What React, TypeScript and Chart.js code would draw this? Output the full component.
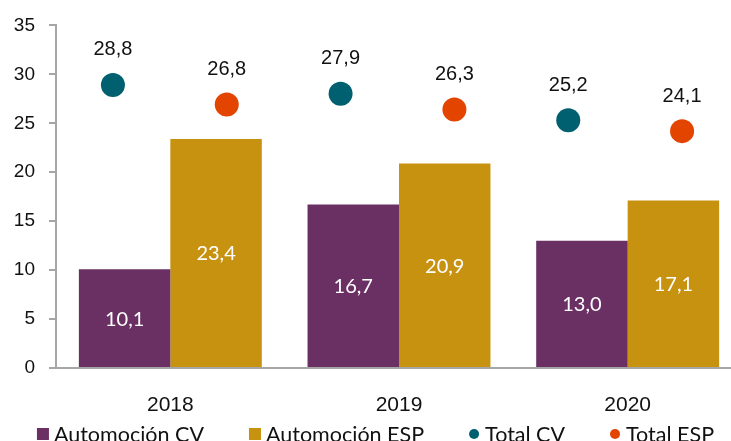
import React, { useEffect, useRef } from 'react';
import { Chart, registerables } from 'chart.js';

Chart.register(...registerables);

// ---- data ----
const years = ['2018', '2019', '2020'];
const automocionCV = [10.1, 16.7, 13.0];
const automocionESP = [23.4, 20.9, 17.1];
const totalCV = [28.8, 27.9, 25.2];
const totalESP = [26.8, 26.3, 24.1];
const seriesNames = ['Automoción CV', 'Automoción ESP', 'Total CV', 'Total ESP'];
const yMin = 0;
const yMax = 35;
const yStep = 5;

// ---- style ----
const C_CV = '#6a3063';
const C_ESP = '#c89211';
const C_TCV = '#006070';
const C_TESP = '#e34400';
const AXIS = '#a6a6a6';
const W = 751;
const H = 460;
const PAD_TOP = 24;
const PAD_RIGHT = 9;
const Y_AXIS_W = 56;
const X_AXIS_H = 45;
const PAD_BOTTOM = 47;

const fmt = (v: number) => v.toFixed(1).replace('.', ',');

const subLabels = years.flatMap((y) => [`${y} CV`, `${y} ESP`]);
const totalCVData = years.flatMap((_, i) => [totalCV[i], null]);
const totalESPData = years.flatMap((_, i) => [null, totalESP[i]]);

const legendItems = [
  { label: seriesNames[0], color: C_CV, shape: 'rect' },
  { label: seriesNames[1], color: C_ESP, shape: 'rect' },
  { label: seriesNames[2], color: C_TCV, shape: 'circle' },
  { label: seriesNames[3], color: C_TESP, shape: 'circle' },
];

const valueLabels = {
  id: 'valueLabels',
  afterDatasetsDraw(chart: any) {
    const ctx = chart.ctx;
    ctx.save();
    ctx.textAlign = 'center';
    ctx.textBaseline = 'middle';
    chart.data.datasets.forEach((ds: any, di: number) => {
      const meta = chart.getDatasetMeta(di);
      meta.data.forEach((el: any, i: number) => {
        const v = ds.data[i];
        if (v == null) return;
        const p = el.getProps(['x', 'y', 'base'], true);
        if (meta.type === 'bar') {
          ctx.font = '20px Lato';
          ctx.fillStyle = '#ffffff';
          ctx.fillText(fmt(v), p.x, (p.y + p.base) / 2 + 1);
        } else {
          ctx.font = '20px "Liberation Sans", Arial, sans-serif';
          ctx.fillStyle = '#111111';
          ctx.fillText(fmt(v), p.x, p.y - 35);
        }
      });
    });
    ctx.restore();
  },
};

const bottomLegend = {
  id: 'bottomLegend',
  afterDraw(chart: any) {
    const ctx = chart.ctx;
    ctx.save();
    ctx.font = '21.5px Lato';
    const gapItem = 45;
    const items = legendItems.map((it) => {
      const isBar = it.shape === 'rect';
      return {
        ...it,
        isBar,
        mw: isBar ? 12 : 10,
        slot: isBar ? 17 : 16,
        tw: ctx.measureText(it.label).width,
      };
    });
    const total =
      items.reduce((s: number, it: any) => s + it.slot + it.tw, 0) + gapItem * (items.length - 1);
    let x = chart.width / 2 - total / 2;
    const cy = 434;
    items.forEach((it: any) => {
      ctx.fillStyle = it.color;
      if (it.isBar) {
        ctx.fillRect(x, cy - it.mw / 2, it.mw, it.mw);
      } else {
        ctx.beginPath();
        ctx.arc(x + it.mw / 2, cy, it.mw / 2, 0, Math.PI * 2);
        ctx.fill();
      }
      x += it.slot;
      ctx.fillStyle = '#111111';
      ctx.textAlign = 'left';
      ctx.textBaseline = 'alphabetic';
      ctx.fillText(it.label, x, 442);
      x += it.tw + gapItem;
    });
    ctx.restore();
  },
};

export default function App() {
  const barRef = useRef<HTMLCanvasElement>(null);
  const dotRef = useRef<HTMLCanvasElement>(null);

  useEffect(() => {
    if (!barRef.current || !dotRef.current) return;

    // Chart 1: bars, axes, legend
    const barChart = new Chart(barRef.current, {
      type: 'bar',
      data: {
        labels: years,
        datasets: [
          {
            label: seriesNames[0],
            data: automocionCV,
            backgroundColor: C_CV,
            categoryPercentage: 0.8,
            barPercentage: 1.0,
          },
          {
            label: seriesNames[1],
            data: automocionESP,
            backgroundColor: C_ESP,
            categoryPercentage: 0.8,
            barPercentage: 1.0,
          },
        ],
      },
      options: {
        animation: false,
        responsive: false,
        devicePixelRatio: 1,
        layout: { padding: { top: PAD_TOP, right: PAD_RIGHT, bottom: PAD_BOTTOM, left: 0 } },
        plugins: {
          legend: { display: false },
          tooltip: { enabled: false },
        },
        scales: {
          x: {
            type: 'category',
            offset: true,
            grid: { display: false },
            border: { display: true, color: AXIS, width: 2 },
            ticks: {
              color: '#111111',
              padding: 17,
              font: { family: '"Liberation Sans", Arial, sans-serif', size: 21 },
            },
            afterFit: (s: any) => {
              s.height = X_AXIS_H;
            },
          },
          y: {
            min: yMin,
            max: yMax,
            ticks: {
              stepSize: yStep,
              color: '#111111',
              padding: 14,
              font: { family: '"Liberation Sans", Arial, sans-serif', size: 19 },
            },
            grid: {
              display: true,
              drawOnChartArea: false,
              drawTicks: true,
              tickLength: 7,
              color: AXIS,
              lineWidth: 2,
            },
            border: { display: true, color: AXIS, width: 2 },
            afterFit: (s: any) => {
              s.width = Y_AXIS_W;
            },
          },
        },
      } as any,
      plugins: [valueLabels, bottomLegend],
    });

    // Chart 2: total markers on the same plot area, split in CV / ESP slots per year
    const dotChart = new Chart(dotRef.current, {
      type: 'line',
      data: {
        labels: subLabels,
        datasets: [
          {
            label: seriesNames[2],
            data: totalCVData,
            showLine: false,
            pointRadius: 12,
            pointHoverRadius: 12,
            pointBackgroundColor: C_TCV,
            pointBorderWidth: 0,
            borderColor: C_TCV,
          },
          {
            label: seriesNames[3],
            data: totalESPData,
            showLine: false,
            pointRadius: 12,
            pointHoverRadius: 12,
            pointBackgroundColor: C_TESP,
            pointBorderWidth: 0,
            borderColor: C_TESP,
          },
        ] as any,
      },
      options: {
        animation: false,
        responsive: false,
        devicePixelRatio: 1,
        layout: {
          padding: {
            top: PAD_TOP,
            right: PAD_RIGHT,
            bottom: PAD_BOTTOM + X_AXIS_H,
            left: Y_AXIS_W,
          },
        },
        plugins: {
          legend: { display: false },
          tooltip: { enabled: false },
        },
        scales: {
          x: { type: 'category', offset: true, display: false },
          y: { min: yMin, max: yMax, display: false },
        },
      } as any,
      plugins: [valueLabels],
    });

    return () => {
      barChart.destroy();
      dotChart.destroy();
    };
  }, []);

  return (
    <div
      style={{
        position: 'fixed',
        left: 0,
        top: 0,
        width: 731,
        height: 441,
        overflow: 'hidden',
        background: '#ffffff',
      }}
    >
      <div style={{ position: 'relative', width: W, height: H }}>
        <canvas
          ref={barRef}
          width={W}
          height={H}
          style={{ display: 'block', position: 'absolute', left: 0, top: 0, width: W, height: H }}
        />
        <canvas
          ref={dotRef}
          width={W}
          height={H}
          style={{ display: 'block', position: 'absolute', left: 0, top: 0, width: W, height: H }}
        />
      </div>
    </div>
  );
}
